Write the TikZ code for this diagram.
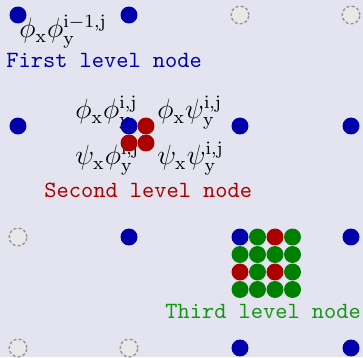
\documentclass[tikz,border=0pt]{standalone}
\usepackage{tikz}

\definecolor{bgcol}{RGB}{228,228,240}
\definecolor{lvlblue}{RGB}{0,0,170}
\definecolor{lvlred}{RGB}{170,0,0}
\definecolor{lvlgreen}{RGB}{0,128,0}
\definecolor{txtgreen}{RGB}{20,150,20}
\definecolor{ghostfill}{RGB}{232,232,232}
\definecolor{ghostline}{RGB}{150,150,150}

\begin{document}
\begin{tikzpicture}[
        x=0.43pt, y=-0.43pt,
        dot/.style={circle, inner sep=0pt, minimum size=7.3pt},
        one/.style={dot, fill=lvlblue},
        two/.style={dot, fill=lvlred},
        three/.style={dot, fill=lvlgreen},
        ghost/.style={circle, inner sep=0pt, minimum size=7.6pt, draw=ghostline, fill=ghostfill, dashed, dash pattern=on 1.3pt off 0.9pt, line width=0.6pt},
        lbl/.style={inner sep=0pt, anchor=base west, font=\large},
        lvltxt/.style={inner sep=0pt, anchor=base west, font=\ttfamily}
        ]
      \fill[bgcol] (0,0) rectangle (363,357);
      \useasboundingbox (0,0) rectangle (363,357);

      % basis labels
      \node[lbl] (pp0) at (19,38) {\(\phi_{\mathrm{x}}\phi_{\mathrm{y}}^{\mathrm{i-1,j}}\)};
      \node[lbl] (pp1) at (75,119) {\(\phi_{\mathrm{x}}\phi_{\mathrm{y}}^{\mathrm{i,j}}\)};
      \node[lbl] (pq1) at (157,119) {\(\phi_{\mathrm{x}}\psi_{\mathrm{y}}^{\mathrm{i,j}}\)};
      \node[lbl] (qp1) at (75,165) {\(\psi_{\mathrm{x}}\phi_{\mathrm{y}}^{\mathrm{i,j}}\)};
      \node[lbl] (qq1) at (157,165) {\(\psi_{\mathrm{x}}\psi_{\mathrm{y}}^{\mathrm{i,j}}\)};

      % level names
      \node[lvltxt, text=lvlblue] (first) at (6,68) {First level node};
      \node[lvltxt, text=lvlred] (second) at (44,198) {Second level node};
      \node[lvltxt, text=txtgreen] (third) at (165,318) {Third level node};

      % coarse grid
      \node[one] (a1) at (18,15) {};
      \node[one] (a2) at (129,15) {};
      \node[ghost] (a3) at (240,15) {};
      \node[ghost] (a4) at (351,15) {};
      \node[one] (b1) at (18,126) {};
      \node[one] (b2) at (129,126) {};
      \node[one] (b3) at (240,126) {};
      \node[one] (b4) at (351,126) {};
      \node[ghost] (c1) at (18,237) {};
      \node[one] (c2) at (129,237) {};
      \node[one] (c3) at (240,237) {};
      \node[one] (c4) at (351,237) {};
      \node[ghost] (d1) at (18,348) {};
      \node[ghost] (d2) at (129,348) {};
      \node[one] (d3) at (240,348) {};
      \node[one] (d4) at (351,348) {};

      % second level at b2
      \node[two] (s2) at (146,126) {};
      \node[two] (s3) at (129,143) {};
      \node[two] (s4) at (146,143) {};

      % third level at c3
      \node[three] (t12) at (257.5,237) {};
      \node[two] (t13) at (275,237) {};
      \node[three] (t14) at (292.5,237) {};
      \node[three] (t21) at (240,254.5) {};
      \node[three] (t22) at (257.5,254.5) {};
      \node[three] (t23) at (275,254.5) {};
      \node[three] (t24) at (292.5,254.5) {};
      \node[two] (t31) at (240,272) {};
      \node[three] (t32) at (257.5,272) {};
      \node[two] (t33) at (275,272) {};
      \node[three] (t34) at (292.5,272) {};
      \node[three] (t41) at (240,289.5) {};
      \node[three] (t42) at (257.5,289.5) {};
      \node[three] (t43) at (275,289.5) {};
      \node[three] (t44) at (292.5,289.5) {};

    \end{tikzpicture}
\end{document}
